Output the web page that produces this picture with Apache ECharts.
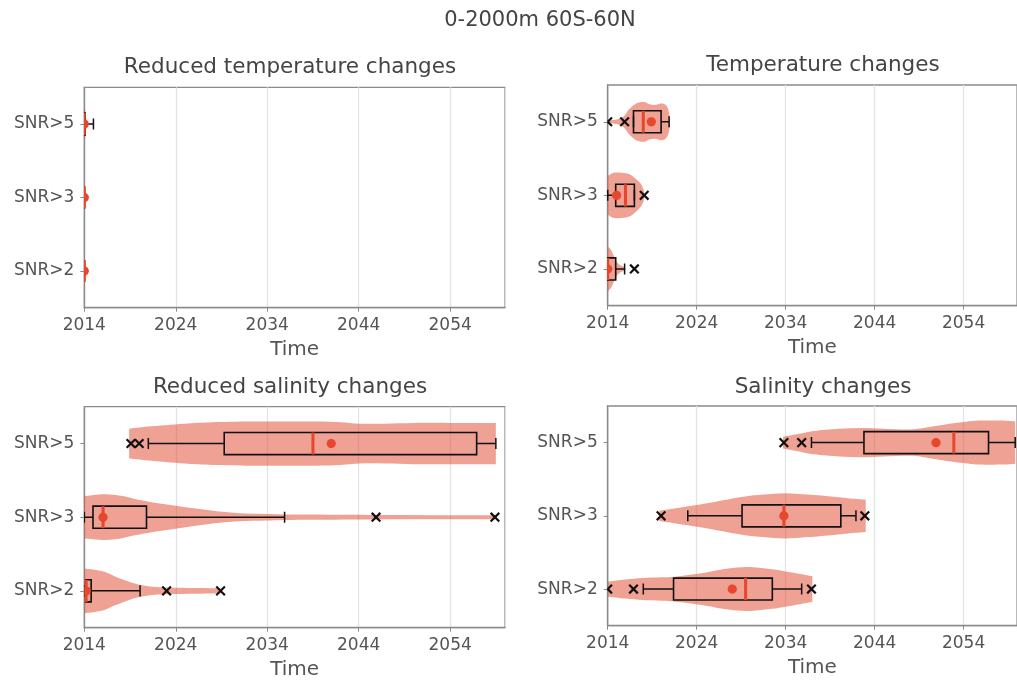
<!DOCTYPE html>
<html>
<head>
<meta charset="utf-8">
<script src="https://cdn.jsdelivr.net/npm/echarts@6/dist/echarts.min.js"></script>
<style>
  html, body { margin: 0; padding: 0; background: #fff; }
  #chart { width: 1017px; height: 683px; }
</style>
</head>
<body>
<div id="chart"></div>
<script>
// categories, bottom to top
var categories = ['SNR>2', 'SNR>3', 'SNR>5'];
var baseYear = 2014;
var tickYears = [2014, 2024, 2034, 2044, 2054];

// box stats per category: [whisker low, q1, median, q3, whisker high]
var redTempBox = [[2014, 2014, 2014, 2014, 2014], [2014, 2014, 2014, 2014, 2014], [2014, 2014, 2014, 2014.1, 2015.0]];
var redTempMean = [2014.0, 2014.0, 2014.0];
var redTempOut = [[], [], []];
// violin outline: [year, half width in category units]
var redTempViolin = [
  [[2014, 0.16], [2014.1, 0.12], [2014.2, 0.05], [2014.3, 0.01]],
  [[2014, 0.17], [2014.1, 0.13], [2014.2, 0.05], [2014.3, 0.01]],
  [[2014, 0.22], [2014.1, 0.19], [2014.2, 0.08], [2014.35, 0.01]]
];

var tempBox = [[2014, 2014, 2014, 2014.9, 2015.9], [2014, 2014.9, 2016.0, 2017.0, 2017.0], [2016.9, 2016.9, 2018.0, 2020.0, 2020.9]];
var tempMean = [2014.0, 2015.0, 2018.9];
var tempOut = [[2017.0], [2018.1], [2014.0, 2015.9]];
var tempViolin = [
  [[2014, 0.30], [2014.3, 0.27], [2014.6, 0.2], [2015.0, 0.1], [2015.4, 0.05], [2015.8, 0.03], [2016.0, 0.01]],
  [[2014, 0.26], [2014.5, 0.30], [2015.0, 0.31], [2016.1, 0.30], [2016.7, 0.27], [2017.2, 0.22], [2017.7, 0.16], [2018.0, 0.09], [2018.1, 0.03]],
  [[2014, 0.015], [2015, 0.03], [2015.7, 0.064], [2016.1, 0.12], [2016.4, 0.17], [2017.2, 0.25], [2018.1, 0.27], [2018.7, 0.24], [2019.3, 0.23], [2020.0, 0.25], [2020.5, 0.23], [2020.8, 0.17], [2021.0, 0.06]]
];

var redSalBox = [[2014, 2014.15, 2014.2, 2014.75, 2020.1], [2014, 2014.95, 2016.05, 2020.8, 2035.9], [2021.0, 2029.3, 2039.0, 2056.9, 2059.0]];
var redSalMean = [2014.2, 2016.05, 2041.0];
var redSalOut = [[2023.0, 2028.9], [2045.9, 2058.9], [2019.1, 2020.0]];
var redSalViolin = [
  [[2014, 0.30], [2015, 0.29], [2016.2, 0.26], [2017.3, 0.2], [2018.3, 0.15], [2019.2, 0.11], [2020.2, 0.08], [2021.5, 0.055], [2023, 0.045], [2026, 0.038], [2028.9, 0.035]],
  [[2014, 0.285], [2016.2, 0.31], [2018, 0.29], [2019.4, 0.25], [2021.5, 0.2], [2023.8, 0.16], [2026, 0.12], [2028.5, 0.08], [2031, 0.055], [2034, 0.045], [2038, 0.035], [2045, 0.03], [2052, 0.028], [2058.9, 0.028]],
  [[2018.9, 0.2], [2021, 0.23], [2024.9, 0.27], [2028, 0.29], [2032.2, 0.3], [2036, 0.3], [2039.4, 0.3], [2042, 0.29], [2044.1, 0.27], [2047, 0.27], [2050, 0.28], [2054, 0.28], [2057, 0.28], [2059, 0.28]]
];

var salBox = [[2018.0, 2021.4, 2029.5, 2032.5, 2035.8], [2023.0, 2029.1, 2033.8, 2040.2, 2041.9], [2036.9, 2042.8, 2052.9, 2056.8, 2059.8]];
var salMean = [2028.0, 2033.8, 2050.9];
var salOut = [[2014.0, 2016.9, 2036.9], [2020.0, 2042.9], [2033.8, 2035.8]];
var salViolin = [
  [[2014, 0.1], [2016, 0.13], [2017.9, 0.15], [2020, 0.16], [2021.5, 0.17], [2023.5, 0.2], [2025.2, 0.23], [2027.5, 0.28], [2029.5, 0.3], [2031, 0.29], [2032.5, 0.27], [2034, 0.24], [2035, 0.22], [2036.8, 0.18], [2037.0, 0.18]],
  [[2019.8, 0.07], [2021.5, 0.1], [2023, 0.13], [2026, 0.19], [2029.2, 0.26], [2031.5, 0.29], [2033.9, 0.31], [2036.5, 0.29], [2039.4, 0.26], [2041, 0.24], [2043, 0.22]],
  [[2033.7, 0.08], [2035.5, 0.12], [2037.2, 0.16], [2040, 0.19], [2042.6, 0.2], [2045, 0.19], [2048.1, 0.18], [2050, 0.21], [2052.1, 0.25], [2054, 0.28], [2055.4, 0.3], [2058.7, 0.3], [2059.8, 0.29]]
];

var violinColor = 'rgba(226,84,60,0.55)';
var red = '#e6472d';
var ink = '#111';
var spine = '#8a8a8a';

var myChart = echarts.init(document.getElementById('chart'));

// catmull-rom through pts as svg cubic segments (no leading M)
function spline(pts) {
  var d = '';
  for (var k = 0; k < pts.length - 1; k++) {
    var p0 = pts[Math.max(k - 1, 0)], p1 = pts[k], p2 = pts[k + 1], p3 = pts[Math.min(k + 2, pts.length - 1)];
    var c1x = p1[0] + (p2[0] - p0[0]) / 6, c1y = p1[1] + (p2[1] - p0[1]) / 6;
    var c2x = p2[0] - (p3[0] - p1[0]) / 6, c2y = p2[1] - (p3[1] - p1[1]) / 6;
    d += ' C' + c1x + ',' + c1y + ' ' + c2x + ',' + c2y + ' ' + p2[0] + ',' + p2[1];
  }
  return d;
}

function makeRender(box, means, outs, violins) {
  return function (params, api) {
    var i = api.value(1);
    var cy = api.coord([0, i])[1];
    var band = api.size([0, 1])[1];
    var xmin = params.coordSys.x;
    var X = function (t) { return api.coord([t - baseYear, i])[0]; };
    var kids = [];

    // violin body, smooth sides and flat ends
    var v = violins[i];
    var top = [], bot = [];
    for (var k = 0; k < v.length; k++) top.push([X(v[k][0]), cy - v[k][1] * band]);
    for (k = v.length - 1; k >= 0; k--) bot.push([X(v[k][0]), cy + v[k][1] * band]);
    var d = 'M' + top[0][0] + ',' + top[0][1] + spline(top) +
      ' L' + bot[0][0] + ',' + bot[0][1] + spline(bot) + ' Z';
    kids.push({ type: 'path', shape: { pathData: d }, style: { fill: violinColor } });

    var b = box[i];
    var bh = 0.15 * band, ch = 0.075 * band;
    var line = function (x1, y1, x2, y2, col, w) {
      // clip at the left spine
      if (x1 < xmin && x2 < xmin) return null;
      if (x1 < xmin) { y1 = y1 + (y2 - y1) * (xmin - x1) / (x2 - x1); x1 = xmin; }
      if (x2 < xmin) { y2 = y2 + (y1 - y2) * (xmin - x2) / (x1 - x2); x2 = xmin; }
      return { type: 'line', shape: { x1: x1, y1: y1, x2: x2, y2: y2 }, style: { stroke: col, lineWidth: w } };
    };
    var add = function (el) { if (el) kids.push(el); };
    // whiskers + caps
    add(line(X(b[0]), cy, X(b[1]), cy, ink, 1.5));
    add(line(X(b[3]), cy, X(b[4]), cy, ink, 1.5));
    add(line(X(b[0]), cy - ch, X(b[0]), cy + ch, ink, 1.5));
    add(line(X(b[4]), cy - ch, X(b[4]), cy + ch, ink, 1.5));
    // box
    kids.push({ type: 'rect', shape: { x: X(b[1]), y: cy - bh, width: X(b[3]) - X(b[1]), height: 2 * bh },
      style: { fill: 'none', stroke: ink, lineWidth: 1.6 } });
    // median
    add(line(X(b[2]), cy - bh, X(b[2]), cy + bh, red, 3));
    // mean dot, clamped at the left spine
    var mx = X(means[i]), circ = [];
    for (k = 0; k < 36; k++) {
      var a = k / 36 * Math.PI * 2;
      circ.push([Math.max(xmin, mx + 4.6 * Math.cos(a)), cy + 4.6 * Math.sin(a)]);
    }
    kids.push({ type: 'polygon', shape: { points: circ }, style: { fill: red } });
    // outliers
    var o = outs[i];
    for (k = 0; k < o.length; k++) {
      var ox = X(o[k]), s = 4.3;
      add(line(ox - s, cy - s, ox + s, cy + s, ink, 2.2));
      add(line(ox - s, cy + s, ox + s, cy - s, ink, 2.2));
    }
    return { type: 'group', children: kids };
  };
}

var grids = [
  { left: 84.3, top: 87.3, width: 420.7, height: 220.4 },
  { left: 607.7, top: 85, width: 420.7, height: 220.7 },
  { left: 84.3, top: 406.7, width: 420.7, height: 221 },
  { left: 607.7, top: 406, width: 420.7, height: 219.7 }
];
var panels = [
  [redTempBox, redTempMean, redTempOut, redTempViolin],
  [tempBox, tempMean, tempOut, tempViolin],
  [redSalBox, redSalMean, redSalOut, redSalViolin],
  [salBox, salMean, salOut, salViolin]
];
var titles = [
  ['Reduced temperature changes', 290, 67],
  ['Temperature changes', 823, 65],
  ['Reduced salinity changes', 290, 387],
  ['Salinity changes', 823, 387]
];

var option = {
  animation: false,
  backgroundColor: '#fff',
  grid: grids.map(function (g) {
    return Object.assign({ show: true, borderColor: spine, borderWidth: 1.3, backgroundColor: 'transparent' }, g);
  }),
  xAxis: grids.map(function (g, n) {
    return {
      gridIndex: n, type: 'value', min: 0, max: 46, interval: 10,
      name: 'Time', nameLocation: 'middle', nameGap: 32,
      nameTextStyle: { fontFamily: 'DejaVu Sans', fontSize: 20, color: '#555' },
      axisLine: { show: true, lineStyle: { color: spine, width: 1.3 } },
      axisTick: { show: true, length: 4, lineStyle: { color: spine } },
      axisLabel: { margin: 9, fontFamily: 'DejaVu Sans', fontSize: 17, color: '#555',
        showMaxLabel: false,
        formatter: function (v) { return tickYears.indexOf(v + baseYear) >= 0 ? String(v + baseYear) : ''; } },
      splitLine: { show: true, lineStyle: { color: '#e3e3e3', width: 1.3 } }
    };
  }),
  yAxis: grids.map(function (g, n) {
    return {
      gridIndex: n, type: 'category', data: categories,
      axisLine: { show: true, lineStyle: { color: spine, width: 1.3 } },
      axisTick: { show: true, alignWithLabel: true, length: 4, lineStyle: { color: spine } },
      axisLabel: { margin: 10, fontFamily: 'DejaVu Sans', fontSize: 17, color: '#555' },
      splitLine: { show: false }
    };
  }),
  graphic: [{
    type: 'text', x: 540, y: 21,
    style: { text: '0-2000m 60S-60N', font: '21px "DejaVu Sans"', fill: '#444',
      textAlign: 'center', textVerticalAlign: 'middle', align: 'center', verticalAlign: 'middle' }
  }].concat(titles.map(function (t) {
    return {
      type: 'text', x: t[1], y: t[2],
      style: { text: t[0], font: '21.5px "DejaVu Sans"', fill: '#444',
        textAlign: 'center', textVerticalAlign: 'middle', align: 'center', verticalAlign: 'middle' }
    };
  })),
  series: panels.map(function (p, n) {
    return {
      type: 'custom', xAxisIndex: n, yAxisIndex: n, clip: true,
      encode: { x: 0, y: 1 },
      data: categories.map(function (c, i) { return [p[0][i][2] - baseYear, i]; }),
      renderItem: makeRender(p[0], p[1], p[2], p[3])
    };
  })
};

myChart.setOption(option);
</script>
</body>
</html>
